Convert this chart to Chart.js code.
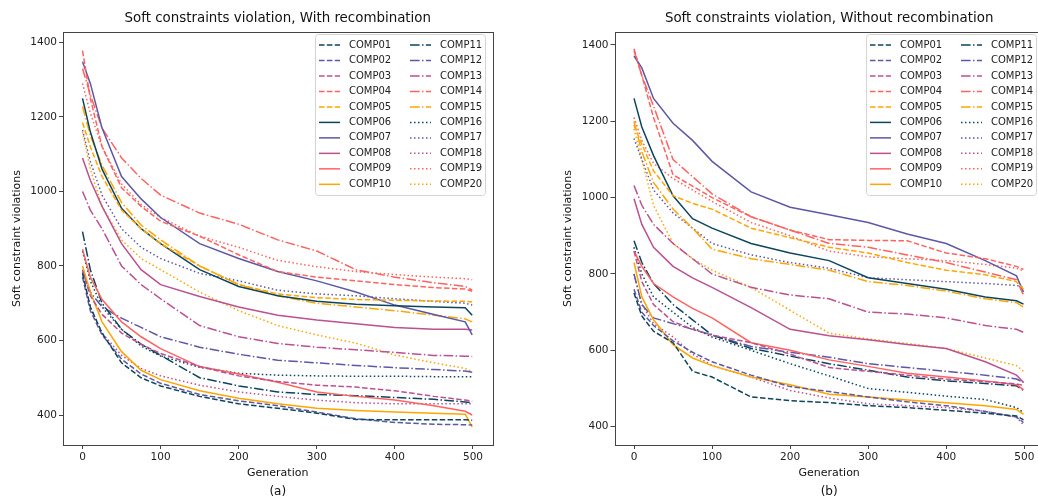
<!DOCTYPE html>
<html>
<head>
<meta charset="utf-8">
<script src="https://cdn.jsdelivr.net/npm/chart.js@4.4.1/dist/chart.umd.min.js"></script>
<style>
  html, body { margin: 0; padding: 0; background: #fff; overflow: hidden; }
  #wrap-a { position: absolute; left: 0; top: 0; width: 519px; height: 499px; }
  #wrap-b { position: absolute; left: 519px; top: 0; width: 530px; height: 499px; }
</style>
</head>
<body>
<div id="wrap-a"><canvas id="chart-a"></canvas></div>
<div id="wrap-b"><canvas id="chart-b"></canvas></div>
<script>
// generations at which the curves were sampled
const gens = [0, 10, 25, 50, 75, 100, 150, 200, 250, 300, 350, 400, 450, 490, 499];
const names = ["COMP01", "COMP02", "COMP03", "COMP04", "COMP05", "COMP06", "COMP07", "COMP08", "COMP09", "COMP10",
  "COMP11", "COMP12", "COMP13", "COMP14", "COMP15", "COMP16", "COMP17", "COMP18", "COMP19", "COMP20"];

// (a) with recombination
const a01 = [780, 690, 620, 540, 500, 478, 450, 430, 418, 405, 388, 387, 387, 387, 386];
const a02 = [770, 680, 615, 550, 510, 485, 455, 438, 425, 408, 390, 380, 375, 374, 373];
const a03 = [785, 720, 670, 620, 590, 565, 530, 505, 490, 480, 475, 465, 450, 440, 437];
const a04 = [1378, 1250, 1120, 1010, 960, 920, 880, 830, 785, 770, 760, 750, 742, 738, 732];
const a05 = [1185, 1120, 1040, 950, 900, 860, 800, 750, 725, 715, 710, 708, 706, 705, 703];
const a06 = [1250, 1160, 1060, 955, 900, 860, 790, 745, 720, 705, 697, 693, 690, 688, 668];
const a07 = [1348, 1290, 1170, 1040, 980, 930, 860, 820, 785, 760, 730, 695, 670, 650, 615];
const a08 = [1090, 1030, 960, 860, 790, 750, 718, 690, 668, 655, 645, 635, 630, 630, 628];
const a09 = [845, 770, 710, 650, 610, 578, 530, 510, 488, 462, 450, 440, 425, 410, 400];
const a10 = [800, 730, 650, 570, 520, 495, 465, 445, 430, 418, 412, 408, 405, 402, 368];
const a11 = [892, 790, 700, 630, 590, 560, 500, 478, 462, 455, 452, 447, 442, 435, 433];
const a12 = [790, 730, 690, 660, 635, 610, 582, 563, 547, 540, 533, 527, 522, 518, 515];
const a13 = [1000, 950, 900, 800, 750, 712, 640, 610, 592, 582, 575, 568, 560, 558, 557];
const a14 = [1330, 1260, 1170, 1090, 1035, 990, 942, 912, 870, 840, 790, 770, 755, 745, 735];
const a15 = [1228, 1150, 1070, 970, 910, 870, 800, 750, 720, 700, 690, 680, 668, 658, 650];
const a16 = [840, 760, 690, 630, 585, 558, 528, 512, 507, 505, 504, 504, 503, 503, 503];
const a17 = [1165, 1080, 990, 900, 850, 820, 780, 760, 735, 725, 720, 712, 705, 700, 695];
const a18 = [780, 690, 620, 560, 525, 505, 480, 462, 450, 440, 433, 430, 430, 430, 430];
const a19 = [1290, 1210, 1120, 1020, 965, 930, 880, 850, 815, 798, 785, 777, 770, 766, 763];
const a20 = [1160, 1060, 960, 870, 820, 790, 730, 680, 640, 615, 593, 561, 540, 525, 516];

// (b) without recombination
const b01 = [750, 690, 650, 620, 545, 530, 478, 468, 463, 455, 450, 443, 435, 428, 418];
const b02 = [760, 700, 665, 625, 595, 570, 535, 505, 492, 478, 465, 455, 440, 425, 411];
const b03 = [860, 780, 720, 675, 655, 640, 620, 590, 555, 545, 535, 525, 518, 512, 508];
const b04 = [1390, 1320, 1210, 1060, 1030, 1000, 950, 915, 890, 888, 887, 855, 840, 820, 812];
const b05 = [1190, 1140, 1070, 1005, 985, 970, 920, 895, 870, 855, 830, 810, 798, 780, 760];
const b06 = [1260, 1185, 1110, 1005, 945, 920, 880, 855, 835, 790, 775, 760, 740, 730, 721];
const b07 = [1371, 1340, 1260, 1195, 1150, 1095, 1015, 975, 955, 935, 905, 880, 835, 795, 753];
const b08 = [997, 930, 870, 820, 790, 765, 712, 655, 638, 628, 615, 605, 570, 535, 516];
const b09 = [860, 820, 775, 740, 710, 685, 620, 600, 575, 558, 540, 530, 520, 510, 497];
const b10 = [830, 740, 680, 615, 580, 560, 530, 510, 485, 478, 470, 463, 455, 445, 432];
const b11 = [887, 830, 775, 720, 680, 640, 605, 585, 565, 548, 530, 520, 513, 507, 495];
const b12 = [800, 720, 685, 670, 655, 640, 610, 595, 582, 565, 555, 545, 535, 525, 516];
const b13 = [1032, 980, 930, 880, 840, 800, 765, 745, 735, 700, 695, 685, 665, 655, 647];
const b14 = [1385, 1320, 1240, 1100, 1055, 1010, 950, 915, 880, 870, 850, 830, 805, 785, 745];
const b15 = [1200, 1120, 1040, 970, 920, 865, 840, 825, 810, 780, 770, 755, 735, 725, 713];
const b16 = [870, 800, 740, 700, 660, 635, 600, 565, 533, 500, 490, 480, 471, 450, 437];
const b17 = [1155, 1100, 1020, 960, 920, 880, 850, 830, 815, 790, 785, 780, 775, 770, 765];
const b18 = [800, 720, 670, 635, 590, 560, 530, 495, 475, 460, 455, 450, 440, 425, 405];
const b19 = [1210, 1150, 1090, 1050, 1020, 990, 935, 900, 860, 845, 840, 835, 825, 815, 808];
const b20 = [1180, 1100, 980, 880, 840, 810, 765, 705, 645, 630, 618, 605, 580, 560, 545];

const seriesA = [a01, a02, a03, a04, a05, a06, a07, a08, a09, a10, a11, a12, a13, a14, a15, a16, a17, a18, a19, a20];
const seriesB = [b01, b02, b03, b04, b05, b06, b07, b08, b09, b10, b11, b12, b13, b14, b15, b16, b17, b18, b19, b20];

const colors = ["#0d4560", "#5d58a6", "#bc5090", "#ff6361", "#ffa600"];
const dashes = [[5.5, 2.4], [], [9.6, 2.4, 1.5, 2.4], [1.5, 2.5]];
const FONT = "'DejaVu Sans', sans-serif";
Chart.defaults.font.family = FONT;
Chart.defaults.color = "#222";

function buildDatasets(series) {
  return series.map((vals, i) => ({
    label: names[i],
    data: vals.map((v, k) => ({ x: gens[k], y: v })),
    borderColor: colors[i % 5],
    borderDash: dashes[Math.floor(i / 5)],
    borderWidth: 1.5,
    pointRadius: 0,
    fill: false,
    tension: 0,
  }));
}

const frame = {
  id: "frame",
  afterDatasetsDraw(chart) {
    const { ctx, chartArea: a } = chart;
    ctx.save();
    ctx.strokeStyle = "#444";
    ctx.lineWidth = 1;
    ctx.strokeRect(Math.round(a.left) + 0.5, Math.round(a.top) + 0.5,
      Math.round(a.right - a.left), Math.round(a.bottom - a.top));
    ctx.restore();
  },
};

const boxLegend = {
  id: "boxLegend",
  afterDraw(chart) {
    const { ctx, chartArea } = chart;
    const w = 170, h = 161;
    const x0 = Math.round(chartArea.right - 7.5 - w);
    const y0 = Math.round(chartArea.top + 2);
    ctx.save();
    ctx.fillStyle = "rgba(255,255,255,0.8)";
    ctx.strokeStyle = "#d4d4d4";
    ctx.lineWidth = 1;
    ctx.beginPath();
    ctx.roundRect(x0 + 0.5, y0 + 0.5, w, h, 3);
    ctx.fill();
    ctx.stroke();
    ctx.font = "10px " + FONT;
    ctx.textBaseline = "middle";
    chart.data.datasets.forEach((ds, i) => {
      const col = Math.floor(i / 10), row = i % 10;
      const x = x0 + 4 + col * 91;
      const y = y0 + 11 + row * 15.48;
      ctx.strokeStyle = ds.borderColor;
      ctx.lineWidth = 1.5;
      ctx.setLineDash(ds.borderDash);
      ctx.beginPath();
      ctx.moveTo(x, y);
      ctx.lineTo(x + 21, y);
      ctx.stroke();
      ctx.setLineDash([]);
      ctx.fillStyle = "#222";
      ctx.fillText(ds.label, x + 30, y);
    });
    ctx.restore();
  },
};

function makeOptions(title, sub, yMin, yMax, padLeft, padRight, yTitlePad) {
  return {
    responsive: true,
    maintainAspectRatio: false,
    animation: false,
    layout: { padding: { left: padLeft, right: padRight, top: 0, bottom: 0 } },
    plugins: {
      legend: { display: false },
      tooltip: { enabled: false },
      title: {
        display: true,
        text: title,
        fullSize: false,
        color: "#111",
        font: { size: 13.4, weight: "normal" },
        padding: { top: 10, bottom: 5.9 },
      },
      subtitle: {
        display: true,
        position: "bottom",
        text: sub,
        fullSize: false,
        color: "#111",
        font: { size: 12, weight: "normal" },
        padding: { top: 2, bottom: 0 },
      },
    },
    scales: {
      x: {
        type: "linear",
        min: -25,
        max: 525,
        ticks: { stepSize: 100, includeBounds: false, padding: 2, font: { size: 10.5 }, color: "#222",
          callback: (v) => String(v) },
        grid: { display: true, drawOnChartArea: false, drawTicks: true, tickLength: 4, color: "#444" },
        border: { display: false },
        title: { display: true, text: "Generation", color: "#111", font: { size: 11 }, padding: { top: 0, bottom: 3 } },
        afterFit(scale) { scale.height = 37.6; },
      },
      y: {
        min: yMin,
        max: yMax,
        ticks: { stepSize: 200, includeBounds: false, padding: 2, font: { size: 10.5 }, color: "#222",
          callback: (v) => String(v) },
        grid: { display: true, drawOnChartArea: false, drawTicks: true, tickLength: 4, color: "#444" },
        border: { display: false },
        title: { display: true, text: "Soft constraint violations", color: "#111", font: { size: 11 }, padding: { top: yTitlePad, bottom: 0 } },
        afterFit(scale) { scale.width = 63; },
      },
    },
  };
}

new Chart(document.getElementById("chart-a"), {
  type: "line",
  data: { datasets: buildDatasets(seriesA) },
  options: makeOptions("Soft constraints violation, With recombination", "(a)", 319.5, 1428, 0, 26.5, 11),
  plugins: [frame, boxLegend],
});

new Chart(document.getElementById("chart-b"), {
  type: "line",
  data: { datasets: buildDatasets(seriesB) },
  options: makeOptions("Soft constraints violation, Without recombination", "(b)", 352, 1434, 32.5, 5.2, 10),
  plugins: [frame, boxLegend],
});
</script>
</body>
</html>
